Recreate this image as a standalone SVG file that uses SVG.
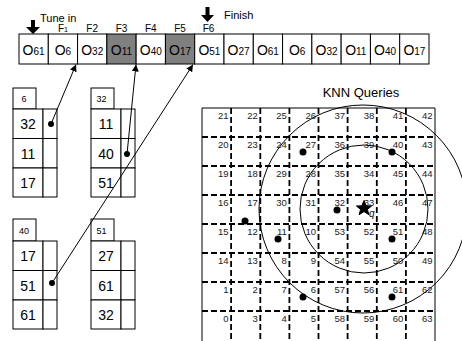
<svg xmlns="http://www.w3.org/2000/svg" width="462" height="341" viewBox="0 0 462 341">
<defs>
<style>
text{font-family:"Liberation Sans",Arial,sans-serif;fill:#000}
.cell{fill:#fff;stroke:#000;stroke-width:1}
.shade{fill:#808080;stroke:#000;stroke-width:1}
.o{font-size:14px;text-anchor:middle}
.sub{font-size:10px}
.f{font-size:10px;text-anchor:middle}
.hdr{font-size:9px;text-anchor:middle}
.key{font-size:14px;text-anchor:middle}
.g{font-size:9.5px;text-anchor:end;fill:#222}
.dash{stroke:#000;stroke-width:1.8;stroke-dasharray:6 3;fill:none}
.solid{stroke:#000;stroke-width:1;fill:none}
.ptr{stroke:#000;stroke-width:1;fill:none;marker-end:url(#ah)}
.circ{stroke:#000;stroke-width:1;fill:none}
</style>
<marker id="ah" viewBox="0 0 10 10" refX="10" refY="5" markerWidth="7" markerHeight="7" markerUnits="userSpaceOnUse" orient="auto">
<path d="M0,0 L10,5 L0,10 z" fill="#000"/>
</marker>
</defs>
<rect width="462" height="341" fill="#fff"/>

<g id="broadcast">
<rect class="cell" x="19" y="34" width="29.29" height="30"/>
<rect class="cell" x="48.29" y="34" width="29.29" height="30"/>
<rect class="cell" x="77.57" y="34" width="29.29" height="30"/>
<rect class="shade" x="106.86" y="34" width="29.29" height="30"/>
<rect class="cell" x="136.14" y="34" width="29.29" height="30"/>
<rect class="shade" x="165.43" y="34" width="29.29" height="30"/>
<rect class="cell" x="194.71" y="34" width="29.29" height="30"/>
<rect class="cell" x="224" y="34" width="29.29" height="30"/>
<rect class="cell" x="253.29" y="34" width="29.29" height="30"/>
<rect class="cell" x="282.57" y="34" width="29.29" height="30"/>
<rect class="cell" x="311.86" y="34" width="29.29" height="30"/>
<rect class="cell" x="341.14" y="34" width="29.29" height="30"/>
<rect class="cell" x="370.43" y="34" width="29.29" height="30"/>
<rect class="cell" x="399.71" y="34" width="29.29" height="30"/>
<text class="o" x="33.6" y="55">O<tspan class="sub">61</tspan></text>
<text class="o" x="62.9" y="55">O<tspan class="sub">6</tspan></text>
<text class="o" x="92.2" y="55">O<tspan class="sub">32</tspan></text>
<text class="o" x="121.5" y="55">O<tspan class="sub">11</tspan></text>
<text class="o" x="150.8" y="55">O<tspan class="sub">40</tspan></text>
<text class="o" x="180.1" y="55">O<tspan class="sub">17</tspan></text>
<text class="o" x="209.4" y="55">O<tspan class="sub">51</tspan></text>
<text class="o" x="238.6" y="55">O<tspan class="sub">27</tspan></text>
<text class="o" x="267.9" y="55">O<tspan class="sub">61</tspan></text>
<text class="o" x="297.2" y="55">O<tspan class="sub">6</tspan></text>
<text class="o" x="326.5" y="55">O<tspan class="sub">32</tspan></text>
<text class="o" x="355.8" y="55">O<tspan class="sub">11</tspan></text>
<text class="o" x="385.1" y="55">O<tspan class="sub">40</tspan></text>
<text class="o" x="414.4" y="55">O<tspan class="sub">17</tspan></text>
<text class="f" x="62.9" y="32">F<tspan font-size="7">1</tspan></text>
<text class="f" x="92.2" y="32">F2</text>
<text class="f" x="121.5" y="32">F3</text>
<text class="f" x="150.8" y="32">F4</text>
<text class="f" x="180.1" y="32">F5</text>
<text class="f" x="208.5" y="32">F6</text>
</g>

<g id="tune-in">
<polygon points="31,20 35,20 35,27 40,27 33,34 26,27 31,27" fill="#000"/>
<text x="40" y="22" font-size="11">Tune in</text>
</g>
<g id="finish">
<polygon points="205.5,7 209.5,7 209.5,15 214,15 207.5,22 201,15 205.5,15" fill="#000"/>
<text x="224" y="19" font-size="11">Finish</text>
</g>

<g id="bucket-6">
<rect class="cell" x="13" y="88" width="23" height="21"/>
<text class="hdr" x="24" y="102">6</text>
<rect class="cell" x="13" y="109" width="30" height="29.5"/>
<rect class="cell" x="43" y="109" width="14" height="29.5"/>
<rect class="cell" x="13" y="138.5" width="30" height="29.5"/>
<rect class="cell" x="43" y="138.5" width="14" height="29.5"/>
<rect class="cell" x="13" y="168" width="30" height="29"/>
<rect class="cell" x="43" y="168" width="14" height="29"/>
<text class="key" x="28" y="129">32</text>
<text class="key" x="28" y="158.5">11</text>
<text class="key" x="28" y="188">17</text>
<circle cx="51" cy="124" r="3"/>
</g>

<g id="bucket-32">
<rect class="cell" x="91" y="88" width="23" height="21"/>
<text class="hdr" x="101.5" y="102">32</text>
<rect class="cell" x="91" y="109" width="30" height="29.5"/>
<rect class="cell" x="121" y="109" width="14" height="29.5"/>
<rect class="cell" x="91" y="138.5" width="30" height="29.5"/>
<rect class="cell" x="121" y="138.5" width="14" height="29.5"/>
<rect class="cell" x="91" y="168" width="30" height="29"/>
<rect class="cell" x="121" y="168" width="14" height="29"/>
<text class="key" x="106" y="129">11</text>
<text class="key" x="106" y="158.5">40</text>
<text class="key" x="106" y="188">51</text>
<circle cx="127" cy="154" r="3"/>
</g>

<g id="bucket-40">
<rect class="cell" x="13" y="219" width="23" height="22"/>
<text class="hdr" x="24" y="234">40</text>
<rect class="cell" x="13" y="241" width="30" height="29.5"/>
<rect class="cell" x="43" y="241" width="14" height="29.5"/>
<rect class="cell" x="13" y="270.5" width="30" height="29.5"/>
<rect class="cell" x="43" y="270.5" width="14" height="29.5"/>
<rect class="cell" x="13" y="300" width="30" height="29"/>
<rect class="cell" x="43" y="300" width="14" height="29"/>
<text class="key" x="28" y="261">17</text>
<text class="key" x="28" y="290.5">51</text>
<text class="key" x="28" y="320">61</text>
<circle cx="52" cy="283" r="3"/>
</g>

<g id="bucket-51">
<rect class="cell" x="91" y="219" width="23" height="22"/>
<text class="hdr" x="101.5" y="234">51</text>
<rect class="cell" x="91" y="241" width="30" height="29.5"/>
<rect class="cell" x="121" y="241" width="14" height="29.5"/>
<rect class="cell" x="91" y="270.5" width="30" height="29.5"/>
<rect class="cell" x="121" y="270.5" width="14" height="29.5"/>
<rect class="cell" x="91" y="300" width="30" height="29"/>
<rect class="cell" x="121" y="300" width="14" height="29"/>
<text class="key" x="106" y="261">27</text>
<text class="key" x="106" y="290.5">61</text>
<text class="key" x="106" y="320">32</text>
</g>

<g id="connectors">
<line class="ptr" x1="51" y1="124" x2="76" y2="64.5"/>
<line class="ptr" x1="127" y1="154" x2="136" y2="64.5"/>
<line class="ptr" x1="52" y1="283" x2="193" y2="64.5"/>
</g>

<g id="knn-grid">
<text x="361" y="97" font-size="13" text-anchor="middle">KNN Queries</text>
<path class="dash" d="M231.1,108V341M260.3,108V341M289.4,108V341M318.5,108V341M347.6,108V341M376.8,108V341M405.9,108V341"/>
<path class="dash" d="M202,137H435M202,166H435M202,195H435M202,224H435M202,253H435M202,282H435M202,311H435"/>
<path class="solid" d="M202,341V108H435V341"/>
<g>
<text class="g" x="228.6" y="119">21</text><text class="g" x="257.8" y="119">22</text><text class="g" x="286.9" y="119">25</text><text class="g" x="316" y="119">26</text><text class="g" x="345.1" y="119">37</text><text class="g" x="374.3" y="119">38</text><text class="g" x="403.4" y="119">41</text><text class="g" x="432.5" y="119">42</text>
<text class="g" x="228.6" y="148">20</text><text class="g" x="257.8" y="148">23</text><text class="g" x="286.9" y="148">24</text><text class="g" x="316" y="148">27</text><text class="g" x="345.1" y="148">36</text><text class="g" x="374.3" y="148">39</text><text class="g" x="403.4" y="148">40</text><text class="g" x="432.5" y="148">43</text>
<text class="g" x="228.6" y="177">19</text><text class="g" x="257.8" y="177">18</text><text class="g" x="286.9" y="177">29</text><text class="g" x="316" y="177">28</text><text class="g" x="345.1" y="177">35</text><text class="g" x="374.3" y="177">34</text><text class="g" x="403.4" y="177">45</text><text class="g" x="432.5" y="177">44</text>
<text class="g" x="228.6" y="206">16</text><text class="g" x="257.8" y="206">17</text><text class="g" x="286.9" y="206">30</text><text class="g" x="316" y="206">31</text><text class="g" x="345.1" y="206">32</text><text class="g" x="374.3" y="206">33</text><text class="g" x="403.4" y="206">46</text><text class="g" x="432.5" y="206">47</text>
<text class="g" x="228.6" y="235">15</text><text class="g" x="257.8" y="235">12</text><text class="g" x="286.9" y="235">11</text><text class="g" x="316" y="235">10</text><text class="g" x="345.1" y="235">53</text><text class="g" x="374.3" y="235">52</text><text class="g" x="403.4" y="235">51</text><text class="g" x="432.5" y="235">48</text>
<text class="g" x="228.6" y="264">14</text><text class="g" x="257.8" y="264">13</text><text class="g" x="286.9" y="264">8</text><text class="g" x="316" y="264">9</text><text class="g" x="345.1" y="264">54</text><text class="g" x="374.3" y="264">55</text><text class="g" x="403.4" y="264">50</text><text class="g" x="432.5" y="264">49</text>
<text class="g" x="228.6" y="293">1</text><text class="g" x="257.8" y="293">2</text><text class="g" x="286.9" y="293">7</text><text class="g" x="316" y="293">6</text><text class="g" x="345.1" y="293">57</text><text class="g" x="374.3" y="293">56</text><text class="g" x="403.4" y="293">61</text><text class="g" x="432.5" y="293">62</text>
<text class="g" x="228.6" y="322">0</text><text class="g" x="257.8" y="322">3</text><text class="g" x="286.9" y="322">4</text><text class="g" x="316" y="322">5</text><text class="g" x="345.1" y="322">58</text><text class="g" x="374.3" y="322">59</text><text class="g" x="403.4" y="322">60</text><text class="g" x="432.5" y="322">63</text>
</g>
<circle class="circ" cx="364" cy="209" r="64"/>
<circle class="circ" cx="363" cy="209" r="104"/>
<g fill="#000">
<circle cx="303" cy="152" r="3.5"/>
<circle cx="392" cy="152" r="3.5"/>
<circle cx="245" cy="221" r="3.5"/>
<circle cx="337" cy="210" r="3.5"/>
<circle cx="278" cy="239" r="3.5"/>
<circle cx="392" cy="239" r="3.5"/>
<circle cx="303" cy="297" r="3.5"/>
<circle cx="392" cy="297" r="3.5"/>
</g>
<polygon points="364,200.5 366.2,205.8 371.6,206 367.4,209.4 368.9,214.7 364,211.6 359.1,214.7 360.6,209.4 356.4,206 361.8,205.8" fill="#000" stroke="#000" stroke-width="1" stroke-linejoin="round"/>
<text x="369" y="217" font-size="10" font-style="italic">q</text>
</g>
</svg>
